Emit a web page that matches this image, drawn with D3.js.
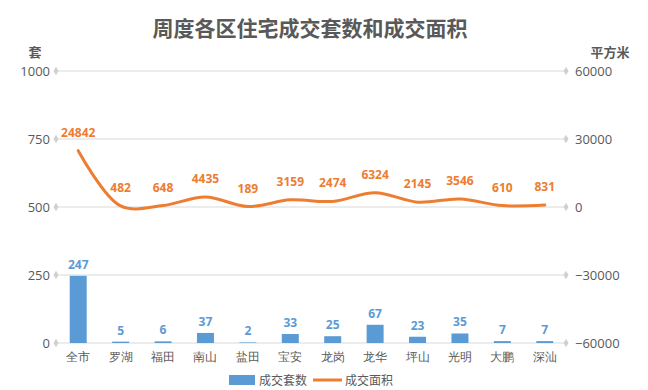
<!DOCTYPE html>
<html>
<head>
<meta charset="utf-8">
<script src="https://cdn.jsdelivr.net/npm/d3@7"></script>
<style>
  body { margin: 0; background: #fff; }
  svg { font-family: "Noto Sans CJK SC", "Noto Sans", sans-serif; }
</style>
</head>
<body>
<div class="chart"></div>
<script>
var districts = ['全市', '罗湖', '福田', '南山', '盐田', '宝安', '龙岗', '龙华', '坪山', '光明', '大鹏', '深汕'];
var units = [247, 5, 6, 37, 2, 33, 25, 67, 23, 35, 7, 7];
var area = [24842, 482, 648, 4435, 189, 3159, 2474, 6324, 2145, 3546, 610, 831];
var leftTicks = [0, 250, 500, 750, 1000];
var rightTicks = [-60000, -30000, 0, 30000, 60000];

var width = 648, height = 390;
var plotLeft = 57, plotRight = 566, plotTop = 71, plotBottom = 343;
var blue = '#5b9bd5', orange = '#ed7d31', grey = '#595959';

var svg = d3.select('.chart').append('svg')
  .attr('width', width)
  .attr('height', height);

var x = d3.scaleBand().domain(districts).range([plotLeft, plotRight]);
var yL = d3.scaleLinear().domain([0, 1000]).range([plotBottom, plotTop]);
var yR = d3.scaleLinear().domain([-60000, 60000]).range([plotBottom, plotTop]);

// title
svg.append('text')
  .attr('x', 310).attr('y', 36)
  .attr('text-anchor', 'middle')
  .attr('font-size', 21).attr('font-weight', 'bold')
  .attr('fill', grey)
  .text('周度各区住宅成交套数和成交面积');

svg.append('text').attr('x', 35).attr('y', 57).attr('text-anchor', 'middle')
  .attr('font-size', 13).attr('font-weight', 'bold').attr('fill', grey).text('套');
svg.append('text').attr('x', 610).attr('y', 57).attr('text-anchor', 'middle')
  .attr('font-size', 13).attr('font-weight', 'bold').attr('fill', grey).text('平方米');

// grid lines with diamond ends
var grid = svg.append('g');
leftTicks.forEach(function (t) {
  var yy = yL(t);
  grid.append('line')
    .attr('x1', plotLeft).attr('x2', plotRight)
    .attr('y1', yy).attr('y2', yy)
    .attr('stroke', '#d9d9d9').attr('stroke-width', 1);
  [plotLeft - 1, plotRight].forEach(function (cx) {
    grid.append('path')
      .attr('d', d3.symbol().type(d3.symbolDiamond).size(22)())
      .attr('transform', 'translate(' + cx + ',' + yy + ')')
      .attr('fill', '#d0d0d0');
  });
});

// left axis
var axL = svg.append('g')
  .attr('transform', 'translate(' + (plotLeft - 7) + ',0)')
  .call(d3.axisLeft(yL).tickValues(leftTicks).tickSize(0).tickPadding(0).tickFormat(d3.format('d')));
axL.select('.domain').remove();
axL.selectAll('text').attr('font-size', 13).attr('fill', grey)
  .attr('font-family', '"Open Sans", "Noto Sans", sans-serif');

// right axis
var axR = svg.append('g')
  .attr('transform', 'translate(' + (plotRight + 9) + ',0)')
  .call(d3.axisRight(yR).tickValues(rightTicks).tickSize(0).tickPadding(0).tickFormat(d3.format('d')));
axR.select('.domain').remove();
axR.selectAll('text').attr('font-size', 13).attr('fill', grey)
  .attr('font-family', '"Open Sans", "Noto Sans", sans-serif');

// category axis
var axX = svg.append('g')
  .attr('transform', 'translate(0,' + plotBottom + ')')
  .call(d3.axisBottom(x).tickSize(0).tickPadding(9));
axX.select('.domain').remove();
axX.selectAll('text').attr('font-size', 12).attr('fill', grey);

// bars
var bw = 17;
svg.selectAll('rect.bar')
  .data(units)
  .enter()
  .append('rect')
  .attr('class', 'bar')
  .attr('x', function (d, i) { return x(districts[i]) + x.bandwidth() / 2 - bw / 2; })
  .attr('y', function (d) { return yL(d); })
  .attr('width', bw)
  .attr('height', function (d) { return Math.max(plotBottom - yL(d), 0); })
  .attr('fill', blue);

svg.selectAll('text.barlabel')
  .data(units)
  .enter()
  .append('text')
  .attr('class', 'barlabel')
  .attr('x', function (d, i) { return x(districts[i]) + x.bandwidth() / 2; })
  .attr('y', function (d) { return yL(d) - 7; })
  .attr('text-anchor', 'middle')
  .attr('font-size', 12).attr('font-weight', 'bold')
  .attr('font-family', '"Open Sans", "Noto Sans", sans-serif')
  .attr('fill', blue)
  .text(function (d) { return d; });

// smoothed line
var line = d3.line()
  .x(function (d, i) { return x(districts[i]) + x.bandwidth() / 2; })
  .y(function (d) { return yR(d); })
  .curve(d3.curveCatmullRom.alpha(0.5));

svg.append('path')
  .datum(area)
  .attr('d', line)
  .attr('fill', 'none')
  .attr('stroke', orange)
  .attr('stroke-width', 3)
  .attr('stroke-linecap', 'round');

svg.selectAll('text.linelabel')
  .data(area)
  .enter()
  .append('text')
  .attr('class', 'linelabel')
  .attr('x', function (d, i) { return x(districts[i]) + x.bandwidth() / 2; })
  .attr('y', function (d) { return yR(d) - 14; })
  .attr('text-anchor', 'middle')
  .attr('font-size', 12).attr('font-weight', 'bold')
  .attr('font-family', '"Open Sans", "Noto Sans", sans-serif')
  .attr('fill', orange)
  .text(function (d) { return d; });

// legend
var lg = svg.append('g').attr('transform', 'translate(0,380)');
lg.append('rect').attr('x', 229).attr('y', -5).attr('width', 26).attr('height', 10).attr('fill', blue);
lg.append('text').attr('x', 259).attr('y', 5).attr('font-size', 12).attr('fill', grey).text('成交套数');
lg.append('line').attr('x1', 313).attr('x2', 342).attr('y1', 0).attr('y2', 0)
  .attr('stroke', orange).attr('stroke-width', 3);
lg.append('text').attr('x', 345).attr('y', 5).attr('font-size', 12).attr('fill', grey).text('成交面积');
</script>
</body>
</html>
